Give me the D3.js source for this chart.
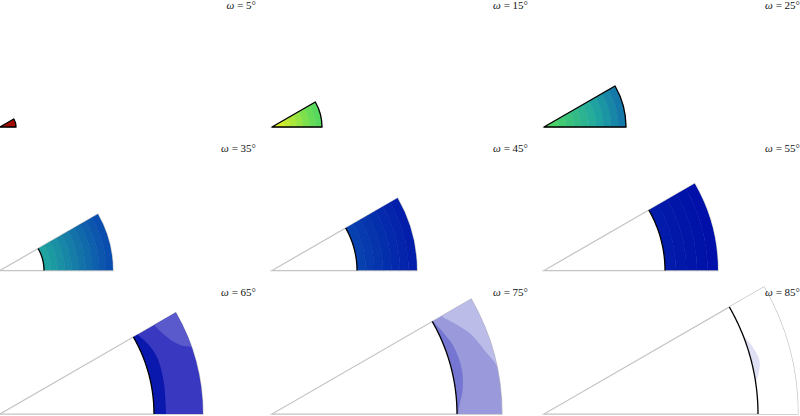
<!DOCTYPE html>
<html>
<head>
<meta charset="utf-8">
<script src="https://cdn.jsdelivr.net/npm/d3@7"></script>
<style>
  html, body { margin: 0; padding: 0; background: #fff; }
  svg { display: block; }
</style>
</head>
<body>
<svg id="chart" width="800" height="416"></svg>
<script>
// one panel per omega
const omegaValues = [5, 15, 25, 35, 45, 55, 65, 75, 85];

// radial extent of the coloured region (units: full panel = 256)
const innerRadius = [0, 0, 0, 44, 85, 121, 154, 185, 214];
const outerRadius = [16, 50, 82, 113, 145, 174, 203, 230, 254];

// colour level of each radial band, inner to outer
const bandLevels = [
  [0.05],
  [1.0, 1.1, 1.25, 1.4, 1.55, 1.7, 1.85, 1.95],
  [2.0, 2.15, 2.3, 2.45, 2.6, 2.75, 2.9, 3.05, 3.2, 3.35, 3.5],
  [3.05, 3.15, 3.25, 3.35, 3.45, 3.55, 3.65, 3.75, 3.85, 3.95],
  [4.15, 4.25, 4.35, 4.45, 4.55, 4.65, 4.75],
  [4.8, 4.85, 4.9, 4.95, 5.0],
  [5.5],
  [6.6],
  [8.0]
];

// patch hugging the inner arc: level and its outer edge as [theta deg, r]
const crescentLevel = [null, null, null, null, null, null, 5.1, 6.25, 7.5];
const crescentEdge = [
  null, null, null, null, null, null,
  [[30, 159], [26, 163], [20, 167], [12, 167], [5, 166], [0, 166]],
  [[30, 186], [25, 190], [20, 194], [13, 195], [7, 192], [3, 188], [0, 186]],
  [[22, 214], [18, 219], [14, 222], [11, 219], [8, 214]]
];

// lighter patch against the outer arc: level and its edge as [theta deg, r]
const blobLevel = [null, null, null, null, null, null, 6.0, 7.0, null];
const blobEdge = [
  null, null, null, null, null, null,
  [[30, 178], [26, 182], [22.6, 188], [20.5, 195], [19, 203]],
  [[30, 196], [26, 205], [22, 214], [16, 223], [12, 230]],
  null
];

// colour map: red -> yellow -> green -> teal -> blue -> white
const levelStops = [0, 1, 2, 3, 4, 5, 5.5, 6, 6.5, 7, 7.5, 8];
const levelColors = [
  '#a00000', '#e8f020', '#50d860', '#20a8a0', '#0848b0', '#0010a8',
  '#3838c0', '#5a5acc', '#9090d8', '#bcbce8', '#e0e0f4', '#ffffff'
];

const THETA_MAX = 30;

class SectorGrid {
  constructor() {
    this.svg = d3.select('#chart');
    this.layout = {
      colStep: 272,
      rowStep: 143.5,
      top: 127,
      radius: 256,
      labelRise: 118.5
    };

    this.r = d3.scaleLinear().domain([0, 256]).range([0, this.layout.radius]);
    // theta (deg, counter-clockwise from east) -> d3 angle (clockwise from north)
    this.angle = d3.scaleLinear()
      .domain([0, THETA_MAX])
      .range([Math.PI / 2, Math.PI / 3]);
    this.color = d3.scaleLinear()
      .domain(levelStops)
      .range(levelColors)
      .interpolate(d3.interpolateRgb)
      .clamp(true);
  }

  init() {
    omegaValues.forEach((omega, i) => this.renderPanel(i));
  }

  sector(r0, r1) {
    return d3.arc()
      .innerRadius(this.r(r0))
      .outerRadius(this.r(r1))
      .startAngle(this.angle(THETA_MAX))
      .endAngle(this.angle(0))();
  }

  arcLine(radius) {
    let line = d3.lineRadial()
      .angle((t) => this.angle(t))
      .radius(this.r(radius));
    return line(d3.range(0, THETA_MAX + 0.25, 0.5));
  }

  patchPath(edge, closeRadius) {
    let first = edge[0];
    let last = edge[edge.length - 1];
    let pts = [[first[0] + 5, first[1]], ...edge, [last[0] - 5, last[1]]];
    let line = d3.lineRadial()
      .angle((d) => this.angle(d[0]))
      .radius((d) => this.r(d[1]))
      .curve(d3.curveCatmullRom);
    let a = d3.pointRadial(this.angle(last[0] - 5), this.r(closeRadius));
    let b = d3.pointRadial(this.angle(first[0] + 5), this.r(closeRadius));
    return line(pts) + `L${a[0]},${a[1]}L${b[0]},${b[1]}Z`;
  }

  renderPanel(i) {
    let col = i % 3;
    let row = Math.floor(i / 3);
    let x0 = col * this.layout.colStep;
    let y0 = this.layout.top + row * this.layout.rowStep;
    let rIn = innerRadius[i];
    let rOut = outerRadius[i];

    let g = this.svg.append('g')
      .attr('transform', `translate(${x0},${y0})`);

    // polar frame
    g.append('path')
      .attr('d', this.sector(0, rOut))
      .style('fill', 'none')
      .style('stroke', '#c4c4c4')
      .style('stroke-width', 1.25);

    g.append('clipPath')
      .attr('id', `clip-${i}`)
      .append('path')
      .attr('d', this.sector(rIn, rOut));

    let body = g.append('g').attr('clip-path', `url(#clip-${i})`);

    let levels = bandLevels[i];
    let step = (rOut - rIn) / levels.length;
    levels.forEach((level, k) => {
      body.append('path')
        .attr('d', this.sector(rIn + k * step, rIn + (k + 1) * step))
        .style('fill', this.color(level))
        .style('stroke', this.color(level))
        .style('stroke-width', 0.6);
    });

    if (crescentEdge[i]) {
      body.append('path')
        .attr('d', this.patchPath(crescentEdge[i], rIn - 20))
        .style('fill', this.color(crescentLevel[i]));
    }

    if (blobEdge[i]) {
      body.append('path')
        .attr('d', this.patchPath(blobEdge[i], rOut + 40))
        .style('fill', this.color(blobLevel[i]));
    }

    // boundary in black
    g.append('path')
      .attr('d', rIn === 0 ? this.sector(0, rOut) : this.arcLine(rIn))
      .style('fill', 'none')
      .style('stroke', '#000')
      .style('stroke-width', 1.3)
      .style('stroke-linejoin', 'round');

    let label = this.svg.append('text')
      .attr('x', x0 + this.layout.radius)
      .attr('y', y0 - this.layout.labelRise)
      .attr('text-anchor', 'end')
      .attr('font-family', 'Liberation Serif, DejaVu Serif, serif')
      .attr('font-size', 11)
      .attr('fill', '#111');
    label.append('tspan').attr('font-style', 'italic').text('ω');
    label.append('tspan').text(` = ${omegaValues[i]}°`);
  }
}

let grid = new SectorGrid();
grid.init();
</script>
</body>
</html>
